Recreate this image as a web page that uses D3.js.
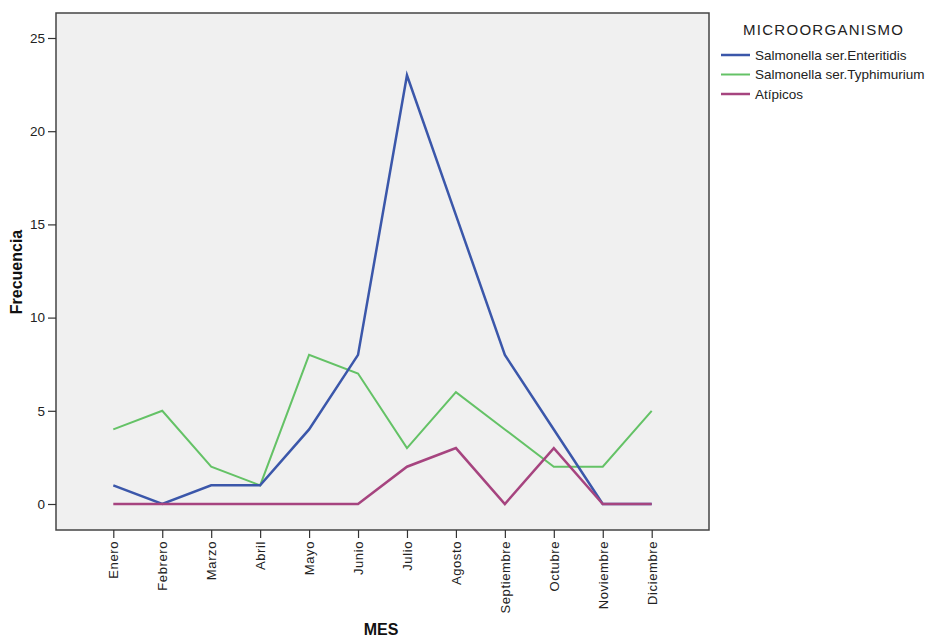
<!DOCTYPE html>
<html><head><meta charset="utf-8">
<script src="https://cdn.jsdelivr.net/npm/d3@7"></script>
<style>body{margin:0;background:#fff}svg{display:block}</style>
</head><body>
<script>
const months = ["Enero","Febrero","Marzo","Abril","Mayo","Junio","Julio","Agosto","Septiembre","Octubre","Noviembre","Diciembre"];
const enteritidis = [1,0,1,1,4,8,23,15.5,8,4,0,0];
const typhimurium = [4,5,2,1,8,7,3,6,4,2,2,5];
const atipicos = [0,0,0,0,0,0,2,3,0,3,0,0];
const seriesNames = ["Salmonella ser.Enteritidis","Salmonella ser.Typhimurium","Atípicos"];
const yTicks = [0,5,10,15,20,25];
const legendTitle = "MICROORGANISMO";

const W=925,H=639;
const svg=d3.select("body").append("svg").attr("width",W).attr("height",H);
const frame={l:56,r:709,t:13,b:530};
const x=d3.scalePoint().domain(months).range([113.3,651.7]);
const y=d3.scaleLinear().domain([0,25]).range([504,38]);

svg.append("rect").attr("x",frame.l).attr("y",frame.t).attr("width",frame.r-frame.l).attr("height",frame.b-frame.t)
  .attr("fill","#f0f0f0").attr("stroke","#444").attr("stroke-width",1.5);

const font="'Liberation Sans', Arial, sans-serif";
// y axis
const ya=svg.append("g").attr("transform",`translate(${frame.l},0)`)
  .call(d3.axisLeft(y).tickValues(yTicks).tickSize(8).tickPadding(3));
ya.select(".domain").remove();
ya.selectAll("line").attr("stroke","#333").attr("stroke-width",1.2);
ya.selectAll("text").attr("font-family",font).attr("font-size",13.5).attr("fill","#222");

// x axis
const xa=svg.append("g").attr("transform",`translate(0,${frame.b})`)
  .call(d3.axisBottom(x).tickSize(8).tickPadding(3));
xa.select(".domain").remove();
xa.selectAll("line").attr("stroke","#333").attr("stroke-width",1.2);
xa.selectAll("text").attr("font-family",font).attr("font-size",13).attr("letter-spacing",0.6).attr("fill","#222")
  .attr("transform","rotate(-90)").attr("text-anchor","end").attr("dy","0.35em").attr("x",-11).attr("y",0);

const colors=["#3b57aa","#64c266","#a6447f"];
const widths=[2.5,2,2.5];
const data=[enteritidis,typhimurium,atipicos];
const line=d3.line().x((d,i)=>x(months[i])).y(d=>y(d));
const order=[1,0,2];
order.forEach(k=>{
  svg.append("path").datum(data[k]).attr("d",line).attr("fill","none")
    .attr("stroke",colors[k]).attr("stroke-width",widths[k]).attr("stroke-linejoin","miter");
});

// axis titles
svg.append("text").attr("x",381).attr("y",635).attr("text-anchor","middle")
  .attr("font-family",font).attr("font-weight","bold").attr("font-size",16).attr("fill","#111").text("MES");
svg.append("text").attr("transform","translate(22,272) rotate(-90)").attr("text-anchor","middle")
  .attr("font-family",font).attr("font-weight","bold").attr("font-size",16).attr("fill","#111").text("Frecuencia");

// legend
svg.append("text").attr("x",743).attr("y",35).attr("font-family",font).attr("font-size",15).attr("fill","#222")
  .attr("textLength",160).text(legendTitle);
seriesNames.forEach((n,i)=>{
  const yy=55+i*19.5;
  svg.append("line").attr("x1",721).attr("x2",750).attr("y1",yy).attr("y2",yy)
    .attr("stroke",colors[i]).attr("stroke-width",widths[i]);
  svg.append("text").attr("x",755).attr("y",yy+4.5).attr("font-family",font).attr("font-size",13.5).attr("fill","#222")
    .text(n);
});
</script>
</body></html>
